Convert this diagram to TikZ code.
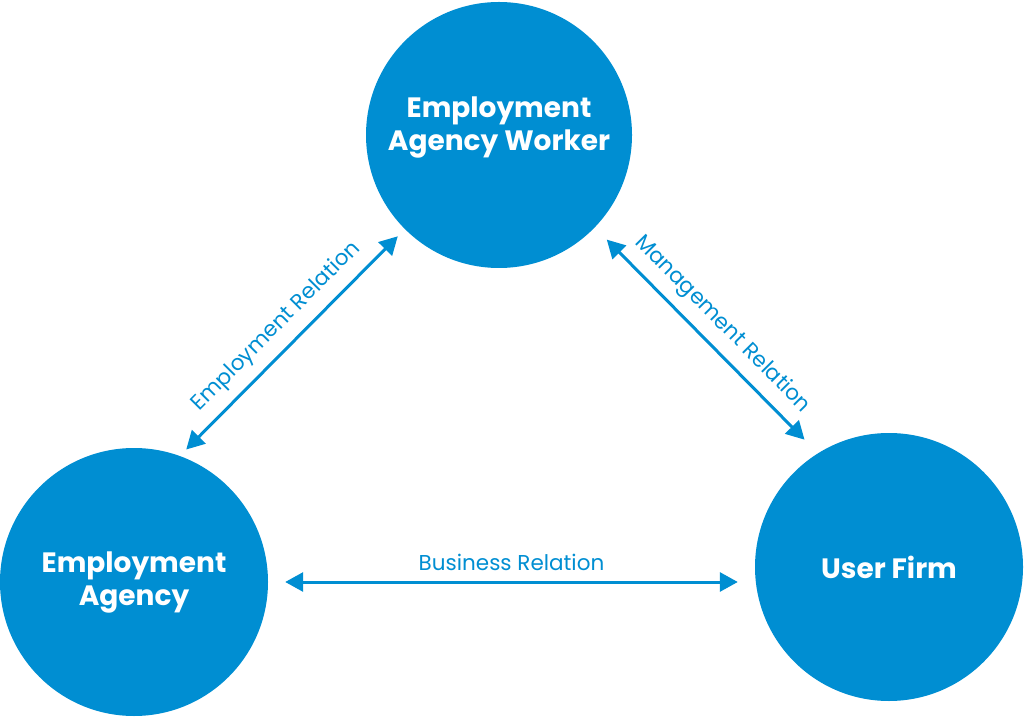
\documentclass[tikz,border=0pt]{standalone}
\usepackage{fontspec}
\setmainfont{Poppins}
\usetikzlibrary{arrows.meta}

\definecolor{agencyblue}{RGB}{0,142,210}

\tikzset{
    party/.style={circle, fill=agencyblue, inner sep=0pt, text=white, align=center,
        font=\fontsize{28}{33}\selectfont\bfseries},
    relation/.style={agencyblue, line width=3pt,
        {Triangle[length=18pt,width=19pt]}-{Triangle[length=18pt,width=19pt]}},
    rellabel/.style={text=agencyblue, inner sep=0pt, font=\fontsize{21.5}{25}\selectfont}
}

\begin{document}
\begin{tikzpicture}[x=1pt,y=1pt]
        \useasboundingbox (0,0) rectangle (1024,718);

        % the three parties
        \node[party, minimum size=266pt] (worker) at (499,583)
            {\raisebox{1pt}[0pt][0pt]{\begin{tabular}{@{}c@{}}Employment\\Agency Worker\end{tabular}}};
        \node[party, minimum size=268pt] (agency) at (134,136) {Employment\\Agency};
        \node[party, minimum size=268pt] (user) at (889,151) {User Firm};

        % relations between them
        \draw [relation, shorten <=9pt, shorten >=10pt] (agency.70) -- node[rellabel, sloped, above=10pt] {Employment Relation} (worker.225);
        \draw [relation, shorten <=17pt, shorten >=19pt] (worker.-44) -- node[rellabel, sloped, above=10pt] {Management Relation} (user.122);
        \draw [relation, shorten <=17pt, shorten >=17pt] (agency.east) -- node[rellabel, above=10pt] {Business Relation} (agency.east -| user.west);
\end{tikzpicture}
\end{document}
